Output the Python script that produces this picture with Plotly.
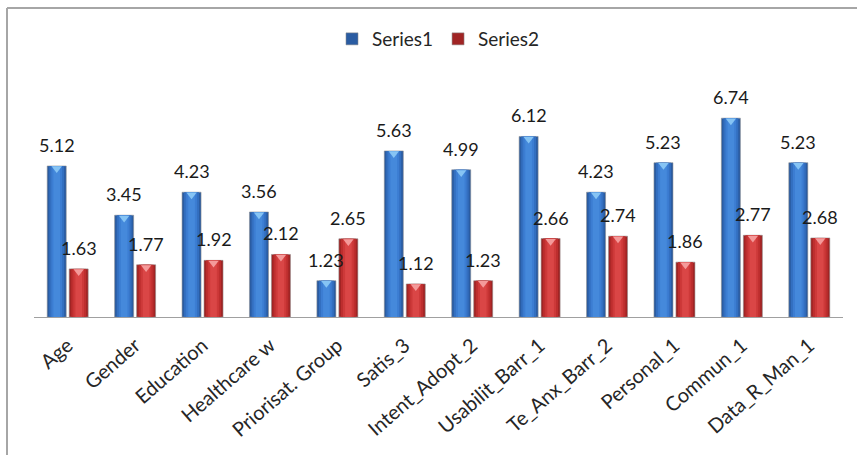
import plotly.graph_objects as go

# Categories and the two series
categories = ["Age", "Gender", "Education", "Healthcare w", "Priorisat. Group",
              "Satis_3", "Intent_Adopt_2", "Usabilit_Barr_1", "Te_Anx_Barr_2",
              "Personal_1", "Commun_1", "Data_R_Man_1"]
series1 = [5.12, 3.45, 4.23, 3.56, 1.23, 5.63, 4.99, 6.12, 4.23, 5.23, 6.74, 5.23]
series2 = [1.63, 1.77, 1.92, 2.12, 2.65, 1.12, 1.23, 2.66, 2.74, 1.86, 2.77, 2.68]

W, H = 857, 455
ML, MR, MT, MB = 34, 14, 81, 138
YMAX = 8.0
FONT = "Lato"

xs = list(range(len(categories)))
BAR_W = 0.282
GAP = 0.022

# shades from edge to centre, giving each column a rounded look
blue_shades = ["#2a5ca2", "#336fc0", "#3c7dd2", "#4589db"]
red_shades = ["#a02424", "#bd2e2e", "#cd3939", "#da4646"]
caps = {"Series1": "#86c4f4", "Series2": "#f49a9a"}

fig = go.Figure()


def add_column(name, values, offset_center, shades, cap_color):
    n = len(shades)
    for k, col in enumerate(shades):
        w = BAR_W * (1 - k / (n + 0.6))
        fig.add_trace(go.Bar(
            x=xs, y=values, name=name,
            width=w, offset=offset_center - w / 2,
            marker=dict(color=col,
                        line=dict(color="rgba(140,140,140,0.55)" if k == 0 else col,
                                  width=1 if k == 0 else 0)),
            showlegend=(k == 0), legendgroup=name, hoverinfo="skip",
        ))
    # light bevel at the top of each column
    fig.add_trace(go.Scatter(
        x=[i + offset_center for i in xs], y=[v - 0.09 for v in values],
        mode="markers", marker=dict(symbol="triangle-down", size=9, color=cap_color,
                                    line=dict(width=0)),
        showlegend=False, hoverinfo="skip",
    ))
    for i, v in zip(xs, values):
        fig.add_annotation(x=i + offset_center, y=v, text=f"{v:.2f}",
                           showarrow=False, yanchor="middle", yshift=21,
                           font=dict(family=FONT, size=18, color="#1a1a1a"))


c1 = -GAP - BAR_W / 2
c2 = GAP + BAR_W / 2
add_column("Series1", series1, c1, blue_shades, caps["Series1"])
add_column("Series2", series2, c2, red_shades, caps["Series2"])

plot_h = H - MT - MB
plot_w = W - ML - MR


def px_to_paper_x(px):
    return (px - ML) / plot_w


def px_to_paper_y(py):
    return (H - MB - py) / plot_h


# chart frame: top and left edges
fig.add_shape(type="line", xref="paper", yref="paper",
              x0=px_to_paper_x(7), x1=px_to_paper_x(W + 5),
              y0=px_to_paper_y(8), y1=px_to_paper_y(8),
              line=dict(color="#a6a6a6", width=2))
fig.add_shape(type="line", xref="paper", yref="paper",
              x0=px_to_paper_x(7), x1=px_to_paper_x(7),
              y0=px_to_paper_y(8), y1=px_to_paper_y(H + 5),
              line=dict(color="#a6a6a6", width=2))

fig.update_layout(
    width=W, height=H,
    margin=dict(l=ML, r=MR, t=MT, b=MB),
    paper_bgcolor="white", plot_bgcolor="white",
    barmode="overlay",
    showlegend=True,
    legend=dict(orientation="h", x=0.5, xanchor="center",
                y=px_to_paper_y(39), yanchor="middle",
                font=dict(family=FONT, size=19, color="#262626"),
                itemclick=False, itemdoubleclick=False),
    xaxis=dict(range=[-0.5, len(categories) - 0.5],
               tickmode="array", tickvals=xs, ticktext=categories,
               tickangle=-41, ticks="", showgrid=False, zeroline=False,
               showline=True, linecolor="#a0a0a0", linewidth=1,
               ticklabelstandoff=8,
               tickfont=dict(family=FONT, size=20, color="#262626")),
    yaxis=dict(range=[0, YMAX], visible=False, showgrid=False, zeroline=False),
)

fig.write_html("out.html")
